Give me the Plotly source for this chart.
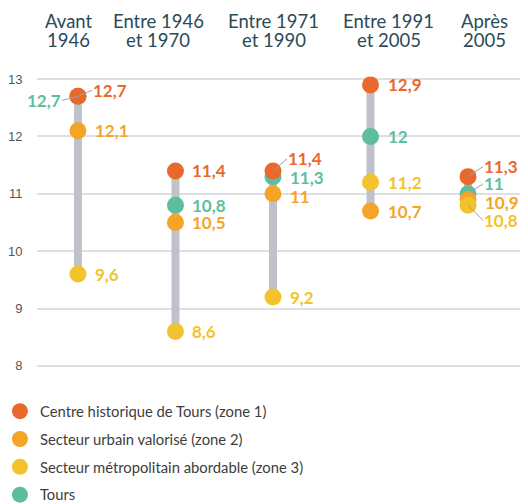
import plotly.graph_objects as go

# ---- data ----
categories = ["Avant 1946", "Entre 1946 et 1970", "Entre 1971 et 1990",
              "Entre 1991 et 2005", "Après 2005"]
cat_line1 = ["Avant", "Entre 1946", "Entre 1971", "Entre 1991", "Après"]
cat_line2 = ["1946", "et 1970", "et 1990", "et 2005", "2005"]

centre = [12.7, 11.4, 11.4, 12.9, 11.3]
urbain = [12.1, 10.5, 11.0, 10.7, 10.9]
metro = [9.6, 8.6, 9.2, 11.2, 10.8]
tours = [12.7, 10.8, 11.3, 12.0, 11.0]

y_ticks = [8, 9, 10, 11, 12, 13]

# category positions on a linear axis (one slot per category)
xpos = list(range(len(categories)))

# ---- style ----
series = [
    # key, name, values, color, legend rank
    ("tours", "Tours", tours, "#5dbe9e", 4),
    ("centre", "Centre historique de Tours (zone 1)", centre, "#e8692b", 1),
    ("urbain", "Secteur urbain valorisé (zone 2)", urbain, "#f6a428", 2),
    ("metro", "Secteur métropolitain abordable (zone 3)", metro, "#f2c32c", 3),
]

# label placement per series/category: (dx, dy, leader_line, anchor)
label_pos = {
    "centre": [(14, -6, True, "left"), (15, 0, False, "left"), (14, -12, True, "left"),
               (15, 0, False, "left"), (15, -10, True, "left")],
    "urbain": [(15, 0, False, "left"), (15, 0, False, "left"), (15, 3, False, "left"),
               (15, 0, False, "left"), (15, 3, False, "left")],
    "metro": [(15, 0, False, "left"), (15, 0, False, "left"), (15, 0, False, "left"),
              (15, 0, False, "left"), (15, 15, True, "left")],
    "tours": [(-16, 4, True, "right"), (15, 0, False, "left"), (15, 1, False, "left"),
              (15, 0, False, "left"), (15, -10, True, "left")],
}

fig = go.Figure()

# connector bars (min to max of each category)
bx, by = [], []
for i in xpos:
    vals = [centre[i], urbain[i], metro[i], tours[i]]
    bx += [i, i, None]
    by += [min(vals), max(vals), None]
fig.add_trace(go.Scatter(x=bx, y=by, mode="lines",
                         line=dict(color="#c0c2c9", width=8),
                         showlegend=False, hoverinfo="skip", cliponaxis=False))

annotations = []
for key, name, vals, color, rank in series:
    fig.add_trace(go.Scatter(
        x=xpos, y=vals, mode="markers", name=name,
        customdata=categories,
        marker=dict(color=color, size=17, line=dict(width=0)),
        legendrank=rank, legendgroup=key, cliponaxis=False))
    for i, v in enumerate(vals):
        dx, dy, leader, anchor = label_pos[key][i]
        txt = ("%g" % v).replace(".", ",")
        font = dict(family="Lato", size=17, color=color, weight="bold")
        if leader:
            annotations.append(dict(
                x=xpos[i], y=v, xref="x", yref="y", text=txt, font=font,
                showarrow=True, ax=dx, ay=dy, axref="pixel", ayref="pixel",
                arrowhead=0, arrowwidth=1, arrowcolor="#9b9ea6", standoff=0,
                xanchor=anchor, yanchor="middle", borderpad=0))
        else:
            annotations.append(dict(
                x=xpos[i], y=v, xref="x", yref="y", text=txt, font=font,
                showarrow=False, xshift=dx, yshift=-dy,
                xanchor=anchor, yanchor="middle"))

# top category labels
top_shift = [-9, -17, 1, 18, 16]
for i in xpos:
    for line, ypos in ((cat_line1[i], 1.197), (cat_line2[i], 1.131)):
        annotations.append(dict(
            x=i, y=ypos, xref="x", yref="paper", text=line, showarrow=False,
            xshift=top_shift[i], xanchor="center", yanchor="middle",
            font=dict(family="Lato", size=18.5, color="#2d4a57")))

# the page body adds an 8px offset, so the figure is 8px smaller on each side
fig.update_layout(
    width=520, height=496,
    margin=dict(l=29, r=0, t=70, b=137, autoexpand=False),
    paper_bgcolor="white", plot_bgcolor="white",
    showlegend=True,
    legend=dict(xref="paper", yref="paper", x=-0.0755, y=-0.097,
                xanchor="left", yanchor="top", orientation="v",
                traceorder="grouped", tracegroupgap=5.6,
                font=dict(family="Lato", size=14.8, color="#3d3d3d"),
                itemsizing="trace", bgcolor="rgba(0,0,0,0)"),
    annotations=annotations,
    xaxis=dict(range=[-0.42, 4.615], showgrid=False, showticklabels=False,
               zeroline=False, showline=False, ticks=""),
    yaxis=dict(range=[7.98, 13.02], tickvals=y_ticks, showgrid=True,
               gridcolor="#dfdfdf", gridwidth=1.5, zeroline=False, showline=False,
               ticks="outside", ticklen=11, tickcolor="rgba(0,0,0,0)",
               tickfont=dict(family="Liberation Sans", size=13, color="#555555")),
)

fig.write_html("out.html")
